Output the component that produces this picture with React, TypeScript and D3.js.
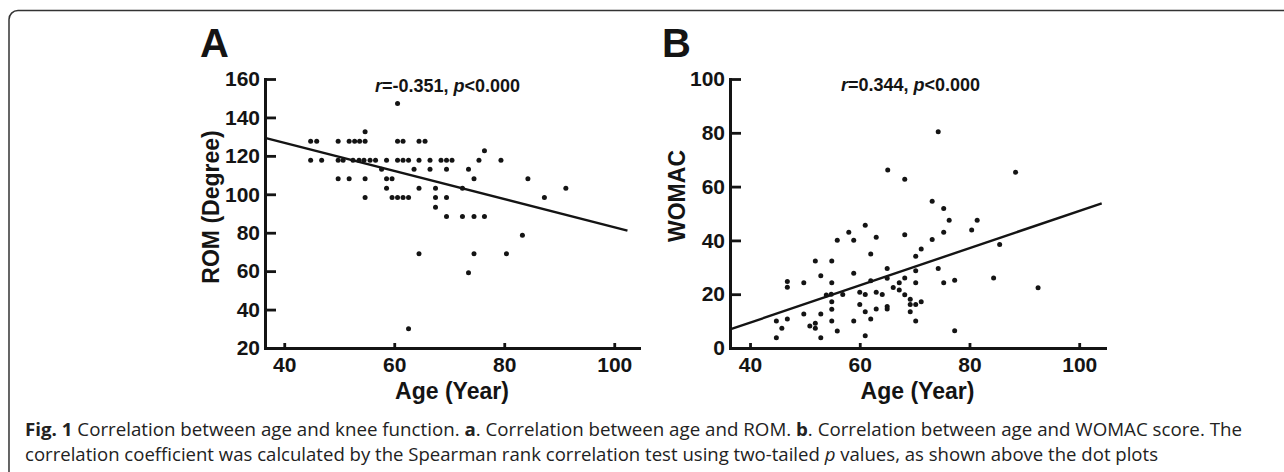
import React, { useEffect, useRef } from 'react';
import * as d3 from 'd3';

// panel A: age (year) vs ROM (degree)
const romPoints: [number, number][] = [
  [44.8, 127.6], [45.9, 127.6], [49.8, 127.6], [51.8, 127.6], [52.8, 127.6], [53.7, 127.6],
  [54.7, 127.6], [60.6, 127.6], [61.6, 127.6], [64.5, 127.6], [65.6, 127.6],
  [54.7, 132.5], [60.6, 147.3],
  [44.8, 117.7], [46.8, 117.7], [49.8, 117.7], [50.7, 117.7], [52.5, 117.7], [53.6, 117.7],
  [54.5, 117.7], [55.6, 117.7], [56.6, 117.7], [58.6, 117.7], [60.6, 117.7], [61.6, 117.7],
  [62.6, 117.7], [64.5, 117.7], [66.5, 117.7], [68.5, 117.7], [69.5, 117.7], [70.5, 117.7],
  [75.4, 117.7], [79.4, 117.7],
  [76.4, 122.6],
  [57.7, 113], [63.6, 113], [66.5, 113], [69.5, 113], [73.5, 113],
  [49.8, 108.1], [51.8, 108.1], [54.7, 108.1], [58.6, 108.1], [59.6, 108.1], [74.5, 108.1], [84.3, 108.1],
  [58.6, 103.2], [64.5, 103.2], [67.5, 103.2], [72.4, 103.2], [91.2, 103.2],
  [54.7, 98.3], [59.6, 98.3], [60.6, 98.3], [61.6, 98.3], [62.6, 98.3], [67.5, 98.3], [69.5, 98.3], [87.3, 98.3],
  [67.5, 93.3],
  [69.5, 88.5], [72.4, 88.5], [74.5, 88.5], [76.4, 88.5],
  [83.3, 78.7],
  [64.5, 69], [74.5, 69], [80.4, 69],
  [73.5, 59.2],
  [62.6, 30],
];
const romFit: [number, number][] = [[36.5, 129.4], [102.4, 81.1]];
const romTicks = [20, 40, 60, 80, 100, 120, 140, 160];

// panel B: age (year) vs WOMAC
const womacPoints: [number, number][] = [
  [44.8, 10.0], [44.8, 3.8], [45.8, 7.3], [46.8, 10.8], [46.8, 24.7], [46.8, 22.6],
  [49.8, 24.3], [49.8, 12.6], [50.9, 8.2], [51.9, 9.2], [51.9, 7.3], [51.9, 32.3],
  [52.9, 26.9], [52.9, 12.6], [52.9, 3.8], [53.9, 19.7], [54.8, 20.0],
  [54.9, 32.3], [54.9, 24.3], [54.9, 17.2], [54.9, 14.4], [54.9, 10.0],
  [55.9, 6.3], [55.9, 40.1], [56.9, 19.9], [58.0, 43.0], [58.9, 40.1], [58.9, 27.8], [58.9, 10.0],
  [60.0, 20.7], [60.0, 16.2], [61.0, 45.6], [61.0, 19.9], [61.0, 13.5], [61.0, 4.6],
  [62.0, 34.9], [62.0, 25.0], [62.0, 10.8], [63.0, 41.2], [63.0, 20.7], [63.0, 14.5],
  [64.1, 19.9], [65.0, 29.6], [65.0, 25.9], [65.0, 15.4], [65.0, 14.5], [65.1, 66.2],
  [66.1, 22.5], [67.2, 24.3], [67.2, 21.6], [68.2, 62.7], [68.2, 42.1], [68.2, 26.0], [68.2, 19.8],
  [69.2, 18.1], [69.2, 16.2], [69.2, 13.5], [70.2, 34.1], [70.2, 28.7], [70.2, 24.3], [70.2, 16.2], [70.2, 10.0],
  [71.2, 36.8], [71.2, 17.2], [73.2, 54.6], [73.2, 40.3], [74.3, 80.4], [74.3, 29.6],
  [75.3, 51.9], [75.3, 43.0], [75.3, 24.3], [76.3, 47.5], [77.3, 25.2], [77.3, 6.4],
  [80.4, 43.9], [81.4, 47.5], [84.4, 26.0], [85.5, 38.5], [88.4, 65.3], [92.5, 22.4],
];
const womacFit: [number, number][] = [[36.35, 6.9], [104.1, 53.8]];
const womacTicks = [0, 20, 40, 60, 80, 100];

const ageTicks = [40, 60, 80, 100];

const FONT = "'Liberation Sans', Arial, sans-serif";
const INK = '#141414';

export default function App() {
  const ref = useRef<SVGSVGElement>(null);

  useEffect(() => {
    const svg = d3.select(ref.current);
    svg.selectAll('g.panel').remove();

    const panels = [
      {
        points: romPoints, fit: romFit, yTicks: romTicks,
        x: d3.scaleLinear().domain([36.5, 104.5]).range([265, 639]),
        y: d3.scaleLinear().domain([20, 160]).range([348, 79]),
      },
      {
        points: womacPoints, fit: womacFit, yTicks: womacTicks,
        x: d3.scaleLinear().domain([36.35, 104.7]).range([730, 1105]),
        y: d3.scaleLinear().domain([0, 100]).range([348, 79]),
      },
    ];

    panels.forEach((p) => {
      const g = svg.append('g').attr('class', 'panel');
      const x0 = p.x.range()[0];
      const y0 = p.y.range()[0];

      const xAxis = d3.axisBottom(p.x).tickValues(ageTicks).tickSizeInner(-5).tickSizeOuter(0).tickPadding(9);
      const yAxis = d3.axisLeft(p.y).tickValues(p.yTicks).tickSizeInner(-11).tickSizeOuter(0).tickPadding(5);

      const gx = g.append('g').attr('transform', `translate(0,${y0})`).call(xAxis);
      const gy = g.append('g').attr('transform', `translate(${x0},0)`).call(yAxis);

      [gx, gy].forEach((a) => {
        a.select('.domain').attr('stroke', INK).attr('stroke-width', 3).attr('stroke-linecap', 'square');
        a.selectAll('.tick line').attr('stroke', INK).attr('stroke-width', 2.8);
        a.selectAll('.tick text')
          .attr('fill', INK)
          .style('font-family', FONT)
          .style('font-weight', 'bold')
          .style('font-size', '21px');
      });
      gx.selectAll('.tick text').attr('dy', '0.71em');

      g.append('path')
        .datum(p.fit)
        .attr('fill', 'none')
        .attr('stroke', INK)
        .attr('stroke-width', 2.4)
        .attr('d', d3.line<[number, number]>().x((d) => p.x(d[0])).y((d) => p.y(d[1])));

      g.selectAll('circle')
        .data(p.points)
        .enter()
        .append('circle')
        .attr('cx', (d) => p.x(d[0]))
        .attr('cy', (d) => p.y(d[1]))
        .attr('r', 2.5)
        .attr('fill', INK);
    });
  }, []);

  const bold = { fontFamily: FONT, fontWeight: 'bold' as const, fill: INK };
  const cap = { fontFamily: "'Open Sans', sans-serif", fontSize: 18, fill: '#222' };

  return (
    <div style={{ position: 'absolute', left: 0, top: 0, width: 1284, height: 472, background: '#fff' }}>
      <svg ref={ref} width={1284} height={472}>
        <rect x={9} y={10.5} width={1400} height={700} rx={9} fill="none" stroke="#333" strokeWidth={1.5} />

        <text x={200} y={57} style={{ ...bold, fontSize: 40 }}>A</text>
        <text x={662} y={57} style={{ ...bold, fontSize: 40 }}>B</text>

        <text x={447.5} y={92} textAnchor="middle" style={{ ...bold, fontSize: 18 }}>
          <tspan fontStyle="italic">r</tspan>=-0.351, <tspan fontStyle="italic">p</tspan>&lt;0.000
        </text>
        <text x={910.5} y={91} textAnchor="middle" style={{ ...bold, fontSize: 18 }}>
          <tspan fontStyle="italic">r</tspan>=0.344, <tspan fontStyle="italic">p</tspan>&lt;0.000
        </text>

        <text transform="translate(218.5,207) rotate(-90)" textAnchor="middle" style={{ ...bold, fontSize: 23 }}>
          ROM (Degree)
        </text>
        <text transform="translate(685,196) rotate(-90)" textAnchor="middle" style={{ ...bold, fontSize: 23 }}>
          WOMAC
        </text>

        <text x={452} y={399} textAnchor="middle" style={{ ...bold, fontSize: 23 }}>Age (Year)</text>
        <text x={917.5} y={399} textAnchor="middle" style={{ ...bold, fontSize: 23 }}>Age (Year)</text>

        <text x={25} y={436} textLength={1217} lengthAdjust="spacingAndGlyphs" style={cap}>
          <tspan fontWeight="bold">Fig. 1</tspan> Correlation between age and knee function. <tspan fontWeight="bold">a</tspan>. Correlation between age and ROM. <tspan fontWeight="bold">b</tspan>. Correlation between age and WOMAC score. The
        </text>
        <text x={25} y={461} textLength={1133} lengthAdjust="spacingAndGlyphs" style={cap}>
          correlation coefficient was calculated by the Spearman rank correlation test using two-tailed <tspan fontStyle="italic">p</tspan> values, as shown above the dot plots
        </text>
      </svg>
    </div>
  );
}
